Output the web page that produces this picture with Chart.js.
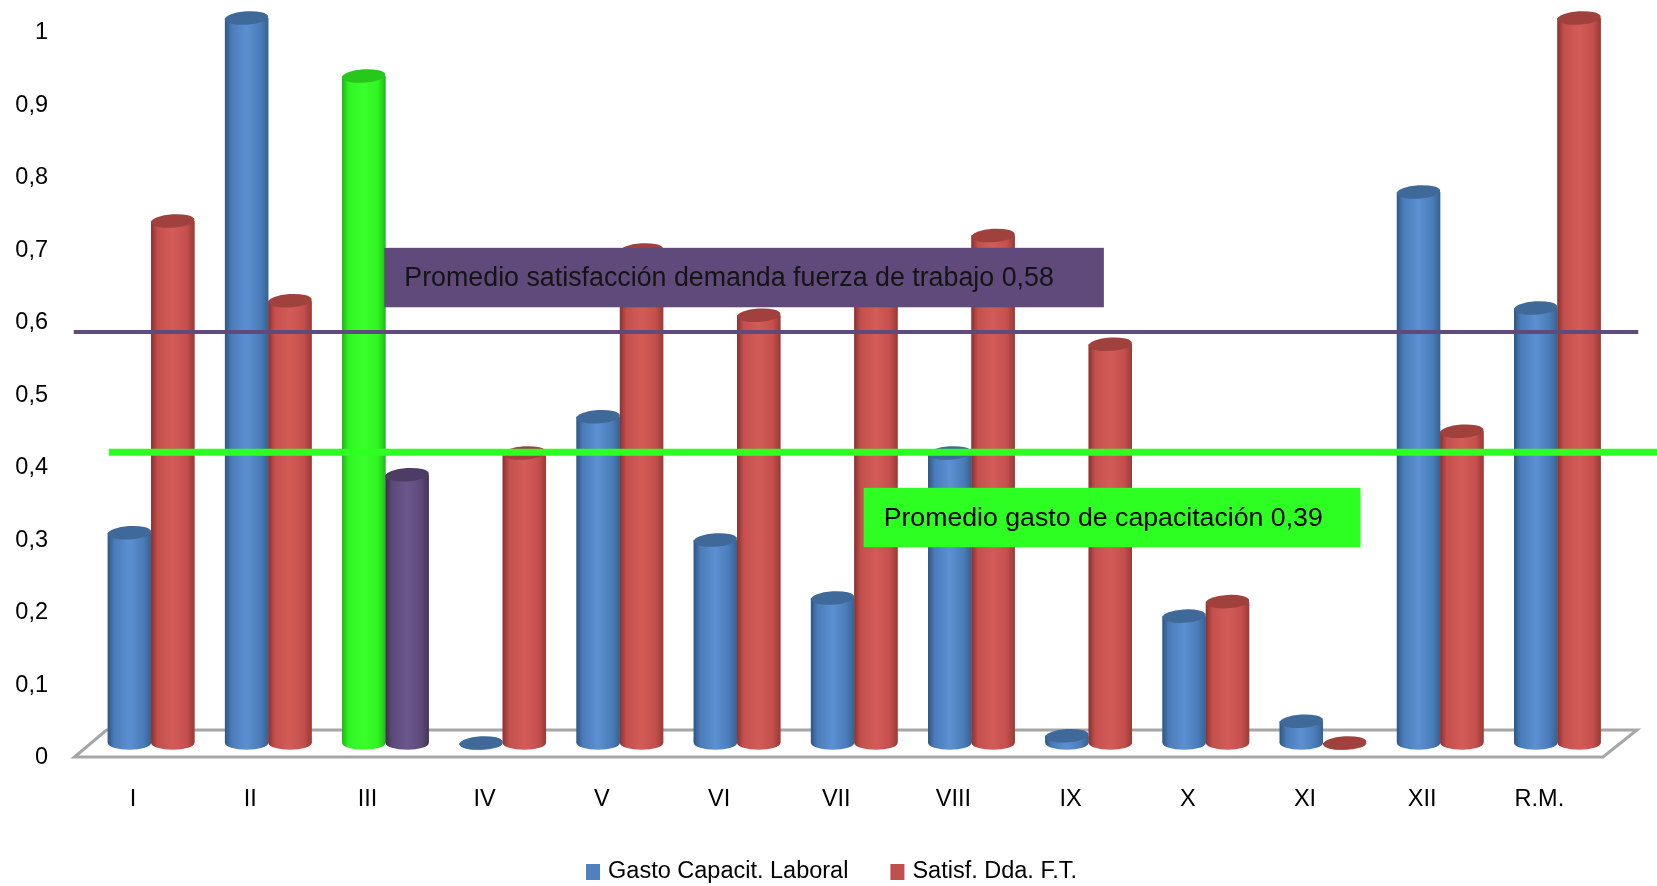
<!DOCTYPE html>
<html lang="es">
<head>
<meta charset="utf-8">
<title>Gasto de capacitación y satisfacción de la demanda</title>
<script src="https://cdn.jsdelivr.net/npm/chart.js@4.4.0/dist/chart.umd.min.js"></script>
<style>
  html, body { margin: 0; padding: 0; background: #fff; }
  #wrap { width: 1657px; height: 886px; }
</style>
</head>
<body>
<div id="wrap"><canvas id="grafico" width="1657" height="886"></canvas></div>
<script>
// ---------- datos ----------
const categorias = ['I', 'II', 'III', 'IV', 'V', 'VI', 'VII', 'VIII', 'IX', 'X', 'XI', 'XII', 'R.M.'];
const gastoCapacit = [0.29, 1.0, 0.92, 0, 0.45, 0.28, 0.20, 0.40, 0.01, 0.175, 0.03, 0.76, 0.60];
const satisfDda = [0.72, 0.61, 0.37, 0.40, 0.68, 0.59, 0.63, 0.70, 0.55, 0.195, 0, 0.43, 1.0];
const series = ['Gasto Capacit. Laboral', 'Satisf. Dda. F.T.'];
const yTicks = [0, 0.1, 0.2, 0.3, 0.4, 0.5, 0.6, 0.7, 0.8, 0.9, 1];

// lineas de promedio (altura) y sus rotulos
const promedioTextos = ['Promedio satisfacción demanda fuerza de trabajo 0,58', 'Promedio gasto de capacitación 0,39'];
const promedioNiveles = [0.567, 0.401];

// ---------- estilos ----------
const FUENTE = '"Liberation Sans", Arial, sans-serif';
const tonos = {
  azul:   { izq: '#2f5583', mid: '#4a7cb9', luz: '#5c90d2', der: '#37628f', tapa: '#3f6999' },
  rojo:   { izq: '#8a3230', mid: '#c44f4c', luz: '#d35c58', der: '#983b38', tapa: '#a0413e' },
  verde:  { izq: '#1db813', mid: '#30f522', luz: '#3aff2b', der: '#20be16', tapa: '#27c81c' },
  morado: { izq: '#3b2e4f', mid: '#5d4978', luz: '#6b578c', der: '#433458', tapa: '#4d3c64' }
};
const colorSerie = ['#4f81bd', '#c0504d'];
// la barra III lleva colores propios
const tonoGasto = categorias.map((c, i) => (i === 2 ? 'verde' : 'azul'));
const tonoSatisf = categorias.map((c, i) => (i === 2 ? 'morado' : 'rojo'));

const etiqueta = (v) => {
  const r = Math.round(v * 10) / 10;
  return r === 1 ? '1' : r === 0 ? '0' : String(r).replace('.', ',');
};

// ---------- cilindros ----------
function cilindro(ctx, x, top, base, w, t) {
  const rx = w / 2;
  const ry = w * 0.155;
  const g = ctx.createLinearGradient(x - rx, 0, x + rx, 0);
  g.addColorStop(0, t.izq);
  g.addColorStop(0.15, t.mid);
  g.addColorStop(0.5, t.luz);
  g.addColorStop(0.82, t.mid);
  g.addColorStop(1, t.der);
  ctx.save();
  ctx.fillStyle = g;
  ctx.beginPath();
  ctx.moveTo(x - rx, top);
  ctx.lineTo(x - rx, base);
  ctx.ellipse(x, base, rx, ry, 0, Math.PI, 0, true);
  ctx.lineTo(x + rx, top);
  ctx.closePath();
  ctx.fill();
  // tapa
  ctx.fillStyle = t.tapa;
  ctx.beginPath();
  ctx.ellipse(x, top, rx, ry, -0.06, 0, Math.PI * 2);
  ctx.fill();
  ctx.restore();
}

const plugin3d = {
  id: 'cilindros3d',
  beforeDatasetsDraw(chart) {
    // piso en perspectiva
    const { ctx, chartArea: a, scales: { y } } = chart;
    const y0 = y.getPixelForValue(0);
    ctx.save();
    ctx.fillStyle = '#ffffff';
    ctx.strokeStyle = '#a6a6a6';
    ctx.lineWidth = 3;
    ctx.beginPath();
    ctx.moveTo(a.left - 18, y0 + 14);
    ctx.lineTo(a.left + 14, y0 - 13);
    ctx.lineTo(a.right + 21, y0 - 13);
    ctx.lineTo(a.right - 13, y0 + 14);
    ctx.closePath();
    ctx.fill();
    ctx.stroke();
    ctx.restore();
  },
  afterDatasetsDraw(chart) {
    const { ctx } = chart;
    const tonosPorSerie = [tonoGasto, tonoSatisf];
    chart.data.datasets.forEach((ds, di) => {
      chart.getDatasetMeta(di).data.forEach((bar, i) => {
        cilindro(ctx, bar.x, bar.y, bar.base, bar.width, tonos[tonosPorSerie[di][i]]);
      });
    });
  }
};

const pluginPromedios = {
  id: 'promedios',
  afterDatasetsDraw(chart) {
    const { ctx, scales: { x, y }, width } = chart;
    ctx.save();
    // linea morada (satisfaccion)
    ctx.strokeStyle = '#5f4a7b';
    ctx.lineWidth = 4;
    ctx.beginPath();
    ctx.moveTo(x.getPixelForValue(-0.66), y.getPixelForValue(promedioNiveles[0]));
    ctx.lineTo(x.getPixelForValue(12.69), y.getPixelForValue(promedioNiveles[0]));
    ctx.stroke();
    // linea verde (gasto)
    ctx.strokeStyle = '#2eff22';
    ctx.lineWidth = 7;
    ctx.beginPath();
    ctx.moveTo(x.getPixelForValue(-0.36), y.getPixelForValue(promedioNiveles[1]));
    ctx.lineTo(width, y.getPixelForValue(promedioNiveles[1]));
    ctx.stroke();

    // rotulos
    const cajas = [
      { x0: 1.99, x1: 8.13, y0: 0.683, y1: 0.601, fondo: '#604a7b', color: '#141414', size: 26.8 },
      { x0: 6.08, x1: 10.32, y0: 0.352, y1: 0.270, fondo: '#2eff22', color: '#000000', size: 26.7 }
    ];
    ctx.textBaseline = 'middle';
    ctx.textAlign = 'left';
    cajas.forEach((c, i) => {
      const l = x.getPixelForValue(c.x0), r = x.getPixelForValue(c.x1);
      const t = y.getPixelForValue(c.y0), b = y.getPixelForValue(c.y1);
      ctx.fillStyle = c.fondo;
      ctx.fillRect(l, t, r - l, b - t);
      ctx.font = c.size + 'px ' + FUENTE;
      ctx.fillStyle = c.color;
      ctx.fillText(promedioTextos[i], l + 20, (t + b) / 2 + 1);
    });
    ctx.restore();
  }
};

const pluginLeyenda = {
  id: 'leyenda',
  afterDraw(chart) {
    const { ctx, width } = chart;
    ctx.save();
    ctx.font = '23.5px ' + FUENTE;
    ctx.textBaseline = 'middle';
    const caja = 14, sep = 8, hueco = 42;
    const anchos = series.map((s) => ctx.measureText(s).width);
    const total = anchos.reduce((s, w) => s + caja + sep + w, 0) + hueco;
    let px = width / 2 - total / 2 + 3;
    const cy = 872;
    series.forEach((s, i) => {
      ctx.fillStyle = colorSerie[i];
      ctx.fillRect(px, cy - 8, caja, 16);
      ctx.fillStyle = '#000';
      ctx.fillText(s, px + caja + sep, cy);
      px += caja + sep + anchos[i] + hueco;
    });
    ctx.restore();
  }
};

// ---------- grafico ----------
new Chart(document.getElementById('grafico'), {
  type: 'bar',
  data: {
    labels: categorias,
    datasets: [
      { label: series[0], data: gastoCapacit, backgroundColor: colorSerie[0] },
      { label: series[1], data: satisfDda, backgroundColor: colorSerie[1] }
    ]
  },
  options: {
    responsive: false,
    animation: false,
    devicePixelRatio: 1,
    layout: { padding: { top: 18, right: 41, left: 0, bottom: 0 } },
    datasets: { bar: { categoryPercentage: 0.74, barPercentage: 1.0 } },
    plugins: {
      legend: { display: false },
      tooltip: { enabled: false }
    },
    scales: {
      x: {
        grid: { display: false, drawTicks: false },
        border: { display: false },
        ticks: { color: '#000', font: { size: 23.5, family: FUENTE }, padding: 42, labelOffset: -18 },
        afterFit(s) { s.height = 143; s.paddingLeft = 0; s.paddingRight = 0; }
      },
      y: {
        min: 0,
        max: 1,
        grid: { display: false, drawTicks: false },
        border: { display: false },
        afterBuildTicks(s) { s.ticks = yTicks.map((v) => ({ value: v })); },
        ticks: {
          color: '#000',
          font: { size: 23.5, family: FUENTE },
          padding: 44.5,
          labelOffset: 15,
          callback: (v) => etiqueta(v)
        },
        afterFit(s) { s.width = 92.5; s.paddingTop = 0; s.paddingBottom = 0; }
      }
    }
  },
  plugins: [plugin3d, pluginPromedios, pluginLeyenda]
});
</script>
</body>
</html>
